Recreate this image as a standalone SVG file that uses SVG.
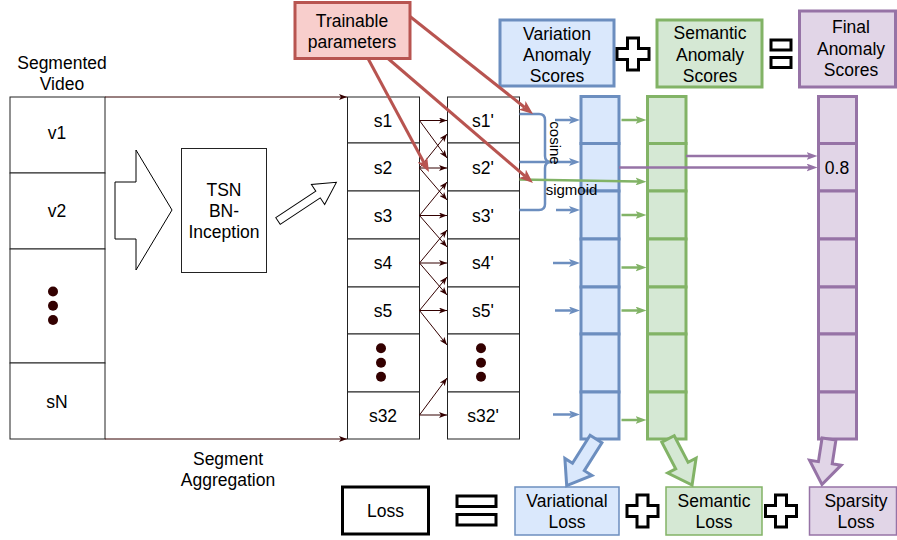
<svg xmlns="http://www.w3.org/2000/svg" width="897" height="540" viewBox="0 0 897 540">
<style>
.t{font-family:"Liberation Sans",Arial,Helvetica,sans-serif;font-size:17.5px;text-anchor:middle;fill:#000}
.ts{font-family:"Liberation Sans",Arial,Helvetica,sans-serif;font-size:15px;text-anchor:middle;fill:#000}
.cell{fill:#fff;stroke:#222;stroke-width:1}
.dot{fill:#330000}
.bl{fill:#dae8fc;stroke:#6c8ebf;stroke-width:3}
.gr{fill:#d5e8d4;stroke:#82b366;stroke-width:3}
.pu{fill:#e1d5e7;stroke:#9673a6;stroke-width:3}
.bl1{fill:#dae8fc;stroke:#6c8ebf;stroke-width:1.5}
.gr1{fill:#d5e8d4;stroke:#82b366;stroke-width:1.5}
.pu1{fill:#e1d5e7;stroke:#9673a6;stroke-width:1.5}
.sym{fill:#fff;stroke:#000;stroke-width:3}
.dk{stroke:#330000;stroke-width:1;fill:none;marker-end:url(#mdk)}
.rd{stroke:#b85450;stroke-width:3;fill:none;marker-end:url(#mrd)}
.ba{stroke:#6c8ebf;stroke-width:2.5;fill:none;marker-end:url(#mbl)}
.ga{stroke:#82b366;stroke-width:2.5;fill:none;marker-end:url(#mgr)}
.pa{stroke:#9673a6;stroke-width:2.5;fill:none;marker-end:url(#mpu)}
.brk{stroke:#6c8ebf;stroke-width:2.5;fill:none}
</style>
<defs>
<marker id="mdk" markerUnits="userSpaceOnUse" markerWidth="8" markerHeight="6" refX="8" refY="3" orient="auto"><path d="M0,0 L8,3 L0,6 L2,3 Z" fill="#330000"/></marker>
<marker id="mrd" markerUnits="userSpaceOnUse" markerWidth="14" markerHeight="11" refX="3.5" refY="5.5" orient="auto"><path d="M0,0 L14,5.5 L0,11 L3.5,5.5 Z" fill="#b85450"/></marker>
<marker id="mbl" markerUnits="userSpaceOnUse" markerWidth="11" markerHeight="8" refX="2.5" refY="4" orient="auto"><path d="M0,0 L11,4 L0,8 L2.5,4 Z" fill="#6c8ebf"/></marker>
<marker id="mgr" markerUnits="userSpaceOnUse" markerWidth="11" markerHeight="8" refX="2.5" refY="4" orient="auto"><path d="M0,0 L11,4 L0,8 L2.5,4 Z" fill="#82b366"/></marker>
<marker id="mpu" markerUnits="userSpaceOnUse" markerWidth="11" markerHeight="8" refX="2.5" refY="4" orient="auto"><path d="M0,0 L11,4 L0,8 L2.5,4 Z" fill="#9673a6"/></marker>
</defs>
<rect width="897" height="540" fill="#fff"/>

<g id="label-segmented-video">
<text class="t" x="62" y="69">Segmented</text>
<text class="t" x="62" y="89.5">Video</text>
</g>
<g id="video-column">
<rect class="cell" x="10" y="97" width="95" height="76"/>
<rect class="cell" x="10" y="173" width="95" height="76"/>
<rect class="cell" x="10" y="249" width="95" height="114"/>
<rect class="cell" x="10" y="363" width="95" height="76"/>
<text class="t" x="57" y="139">v1</text>
<text class="t" x="57" y="217">v2</text>
<circle class="dot" cx="53" cy="291.5" r="5"/>
<circle class="dot" cx="53" cy="305.8" r="5"/>
<circle class="dot" cx="53" cy="320" r="5"/>
<text class="t" x="57" y="408">sN</text>
</g>
<g id="block-arrow-1">
<polygon points="115,182 136,182 136,150 172,210 136,270 136,239 115,239" fill="#fff" stroke="#000" stroke-width="1"/>
</g>
<g id="tsn">
<rect class="cell" x="181.5" y="148.5" width="85" height="124"/>
<text class="t" x="224" y="196">TSN</text>
<text class="t" x="224" y="216.5">BN-</text>
<text class="t" x="224" y="238">Inception</text>
</g>
<g id="block-arrow-2">
<polygon points="0,-4 48,-4 48,-12 70,0 48,12 48,4 0,4" transform="translate(278,221) rotate(-33.5)" fill="#fff" stroke="#000" stroke-width="1"/>
</g>
<g id="label-segment-aggregation">
<text class="t" x="228" y="464.5">Segment</text>
<text class="t" x="228" y="485.5">Aggregation</text>
</g>

<g id="s-column">
<rect class="cell" x="347.5" y="97" width="72" height="46"/>
<rect class="cell" x="347.5" y="143" width="72" height="48"/>
<rect class="cell" x="347.5" y="191" width="72" height="48"/>
<rect class="cell" x="347.5" y="239" width="72" height="48"/>
<rect class="cell" x="347.5" y="287" width="72" height="47"/>
<rect class="cell" x="347.5" y="334" width="72" height="58"/>
<rect class="cell" x="347.5" y="392" width="72" height="47"/>
<text class="t" x="383" y="126.5">s1</text>
<text class="t" x="383" y="173.5">s2</text>
<text class="t" x="383" y="221.5">s3</text>
<text class="t" x="383" y="269">s4</text>
<text class="t" x="383" y="316.5">s5</text>
<circle class="dot" cx="381" cy="348.3" r="5"/>
<circle class="dot" cx="381" cy="362.7" r="5"/>
<circle class="dot" cx="381" cy="376.7" r="5"/>
<text class="t" x="383" y="421.5">s32</text>
</g>
<g id="s-prime-column">
<rect class="cell" x="447.5" y="97" width="72" height="46"/>
<rect class="cell" x="447.5" y="143" width="72" height="48"/>
<rect class="cell" x="447.5" y="191" width="72" height="48"/>
<rect class="cell" x="447.5" y="239" width="72" height="48"/>
<rect class="cell" x="447.5" y="287" width="72" height="47"/>
<rect class="cell" x="447.5" y="334" width="72" height="58"/>
<rect class="cell" x="447.5" y="392" width="72" height="47"/>
<text class="t" x="483" y="126.5">s1'</text>
<text class="t" x="483" y="173.5">s2'</text>
<text class="t" x="483" y="221.5">s3'</text>
<text class="t" x="483" y="269">s4'</text>
<text class="t" x="483" y="316.5">s5'</text>
<circle class="dot" cx="481" cy="348.3" r="5"/>
<circle class="dot" cx="481" cy="362.7" r="5"/>
<circle class="dot" cx="481" cy="376.7" r="5"/>
<text class="t" x="483" y="421.5">s32'</text>
</g>

<g id="trainable-parameters">
<rect x="295" y="2.5" width="115" height="56" fill="#f8cecc" stroke="#b85450" stroke-width="3"/>
<text class="t" x="352" y="27">Trainable</text>
<text class="t" x="352" y="48">parameters</text>
</g>
<g id="variation-anomaly-scores">
<rect class="bl" x="500" y="20" width="114" height="66"/>
<text class="t" x="557" y="39.5">Variation</text>
<text class="t" x="557" y="61">Anomaly</text>
<text class="t" x="557" y="81.5">Scores</text>
</g>
<g id="plus-top">
<path class="sym" d="M627.5,38 H638.5 V48.5 H649 V59.5 H638.5 V70 H627.5 V59.5 H617 V48.5 H627.5 Z"/>
</g>
<g id="semantic-anomaly-scores">
<rect class="gr" x="657" y="20" width="105" height="67"/>
<text class="t" x="710" y="39">Semantic</text>
<text class="t" x="710" y="61">Anomaly</text>
<text class="t" x="710" y="82">Scores</text>
</g>
<g id="equals-top">
<rect class="sym" x="771" y="40" width="20" height="10"/>
<rect class="sym" x="771" y="57.5" width="20" height="10"/>
</g>
<g id="final-anomaly-scores">
<rect class="pu" x="799.5" y="11" width="96" height="76"/>
<text class="t" x="851" y="33">Final</text>
<text class="t" x="851" y="55">Anomaly</text>
<text class="t" x="851" y="76">Scores</text>
</g>

<g id="blue-column">
<rect class="bl" x="581" y="96.5" width="38" height="47"/>
<rect class="bl" x="581" y="143.5" width="38" height="47.5"/>
<rect class="bl" x="581" y="191" width="38" height="48"/>
<rect class="bl" x="581" y="239" width="38" height="48"/>
<rect class="bl" x="581" y="287" width="38" height="47"/>
<rect class="bl" x="581" y="334" width="38" height="58"/>
<rect class="bl" x="581" y="392" width="38" height="47"/>
</g>
<g id="green-column">
<rect class="gr" x="647.5" y="96.5" width="38.5" height="47"/>
<rect class="gr" x="647.5" y="143.5" width="38.5" height="47.5"/>
<rect class="gr" x="647.5" y="191" width="38.5" height="48"/>
<rect class="gr" x="647.5" y="239" width="38.5" height="48"/>
<rect class="gr" x="647.5" y="287" width="38.5" height="47"/>
<rect class="gr" x="647.5" y="334" width="38.5" height="58"/>
<rect class="gr" x="647.5" y="392" width="38.5" height="47"/>
</g>
<g id="purple-column">
<rect class="pu" x="818.5" y="96.5" width="38" height="47"/>
<rect class="pu" x="818.5" y="143.5" width="38" height="47.5"/>
<rect class="pu" x="818.5" y="191" width="38" height="48"/>
<rect class="pu" x="818.5" y="239" width="38" height="48"/>
<rect class="pu" x="818.5" y="287" width="38" height="47"/>
<rect class="pu" x="818.5" y="334" width="38" height="58"/>
<rect class="pu" x="818.5" y="392" width="38" height="47"/>
<text class="t" x="837" y="174">0.8</text>
</g>

<g id="loss">
<rect x="342.5" y="487" width="86" height="47" fill="#fff" stroke="#000" stroke-width="3"/>
<text class="t" x="385.5" y="517">Loss</text>
</g>
<g id="equals-bottom">
<rect class="sym" x="457" y="496" width="39" height="10.5"/>
<rect class="sym" x="457" y="514.5" width="39" height="10.5"/>
</g>
<g id="variational-loss">
<rect class="bl1" x="515" y="487" width="104" height="48"/>
<text class="t" x="567" y="507">Variational</text>
<text class="t" x="567" y="528">Loss</text>
</g>
<g id="plus-bottom-1">
<path class="sym" d="M637,495 H648 V505.5 H658 V516.5 H648 V527 H637 V516.5 H627 V505.5 H637 Z"/>
</g>
<g id="semantic-loss">
<rect class="gr1" x="666" y="487" width="96" height="48"/>
<text class="t" x="714" y="507">Semantic</text>
<text class="t" x="714" y="528">Loss</text>
</g>
<g id="plus-bottom-2">
<path class="sym" d="M775.5,495 H786.5 V505.5 H796.5 V516.5 H786.5 V527 H775.5 V516.5 H765.5 V505.5 H775.5 Z"/>
</g>
<g id="sparsity-loss">
<rect class="pu1" x="809.5" y="487" width="87" height="48"/>
<text class="t" x="856" y="507">Sparsity</text>
<text class="t" x="856" y="528">Loss</text>
</g>

<g id="connectors">
<line class="dk" x1="105" y1="97" x2="347" y2="97"/>
<line class="dk" x1="105" y1="439" x2="347" y2="439"/>
<!-- s to s' -->
<line class="dk" x1="419.5" y1="120.5" x2="447" y2="120.5"/>
<line class="dk" x1="419.5" y1="120.5" x2="447" y2="158"/>
<line class="dk" x1="419.5" y1="168" x2="447" y2="168"/>
<line class="dk" x1="419.5" y1="168" x2="447" y2="134"/>
<line class="dk" x1="419.5" y1="168" x2="447" y2="200"/>
<line class="dk" x1="419.5" y1="215.5" x2="447" y2="215.5"/>
<line class="dk" x1="419.5" y1="215.5" x2="447" y2="182"/>
<line class="dk" x1="419.5" y1="215.5" x2="447" y2="247"/>
<line class="dk" x1="419.5" y1="263" x2="447" y2="263"/>
<line class="dk" x1="419.5" y1="263" x2="447" y2="230"/>
<line class="dk" x1="419.5" y1="263" x2="447" y2="295"/>
<line class="dk" x1="419.5" y1="310.5" x2="447" y2="310.5"/>
<line class="dk" x1="419.5" y1="310.5" x2="447" y2="277"/>
<line class="dk" x1="419.5" y1="310.5" x2="447" y2="345"/>
<line class="dk" x1="419.5" y1="415" x2="447" y2="415"/>
<line class="dk" x1="419.5" y1="415" x2="447" y2="378"/>
<!-- brackets -->
<path class="brk" d="M519.5,114 H539 Q545,114 545,120 V156 Q545,162 551,162"/>
<path class="brk" d="M551,162 Q545,162 545,168 V204 Q545,210 539,210 H519.5"/>
<line class="ba" x1="519.5" y1="162" x2="571.5" y2="162"/>
<line class="ba" x1="555" y1="120" x2="571.5" y2="120"/>
<line class="ba" x1="556" y1="210" x2="571.5" y2="210"/>
<line class="ba" x1="553" y1="263" x2="571.5" y2="263"/>
<line class="ba" x1="555" y1="310.5" x2="571.5" y2="310.5"/>
<line class="ba" x1="553" y1="414.5" x2="571.5" y2="414.5"/>
<!-- green -->
<line class="ga" x1="519.5" y1="179.5" x2="638" y2="181.5"/>
<line class="ga" x1="621.5" y1="120" x2="638" y2="120"/>
<line class="ga" x1="621.5" y1="215" x2="638" y2="215"/>
<line class="ga" x1="621.5" y1="267.5" x2="638" y2="267.5"/>
<line class="ga" x1="621.5" y1="310.5" x2="638" y2="310.5"/>
<line class="ga" x1="621.5" y1="420" x2="638" y2="420"/>
<!-- purple -->
<line class="pa" x1="686" y1="156" x2="809" y2="156"/>
<line class="pa" x1="619" y1="167.5" x2="809" y2="167.5"/>
<!-- red -->
<line class="rd" x1="410" y1="16.5" x2="524.8" y2="107.5"/>
<line class="rd" x1="388" y1="58.5" x2="525" y2="176.1"/>
<line class="rd" x1="368" y1="58.5" x2="424" y2="162.7"/>
<!-- big block arrows -->
<polygon class="bl" points="0,-7 33,-7 33,-16 55,0 33,16 33,7 0,7" transform="translate(596,439) rotate(122.2)"/>
<polygon class="gr" points="0,-7 30,-7 30,-16 52,0 30,16 30,7 0,7" transform="translate(668,439) rotate(62.4)"/>
<polygon class="pu" points="0,-7 24,-7 24,-16 46,0 24,16 24,7 0,7" transform="translate(829,439) rotate(98.8)"/>
</g>
<g id="op-labels">
<text class="ts" transform="translate(550,143) rotate(90)" x="0" y="0">cosine</text>
<text class="ts" x="571.5" y="195">sigmoid</text>
</g>
</svg>
